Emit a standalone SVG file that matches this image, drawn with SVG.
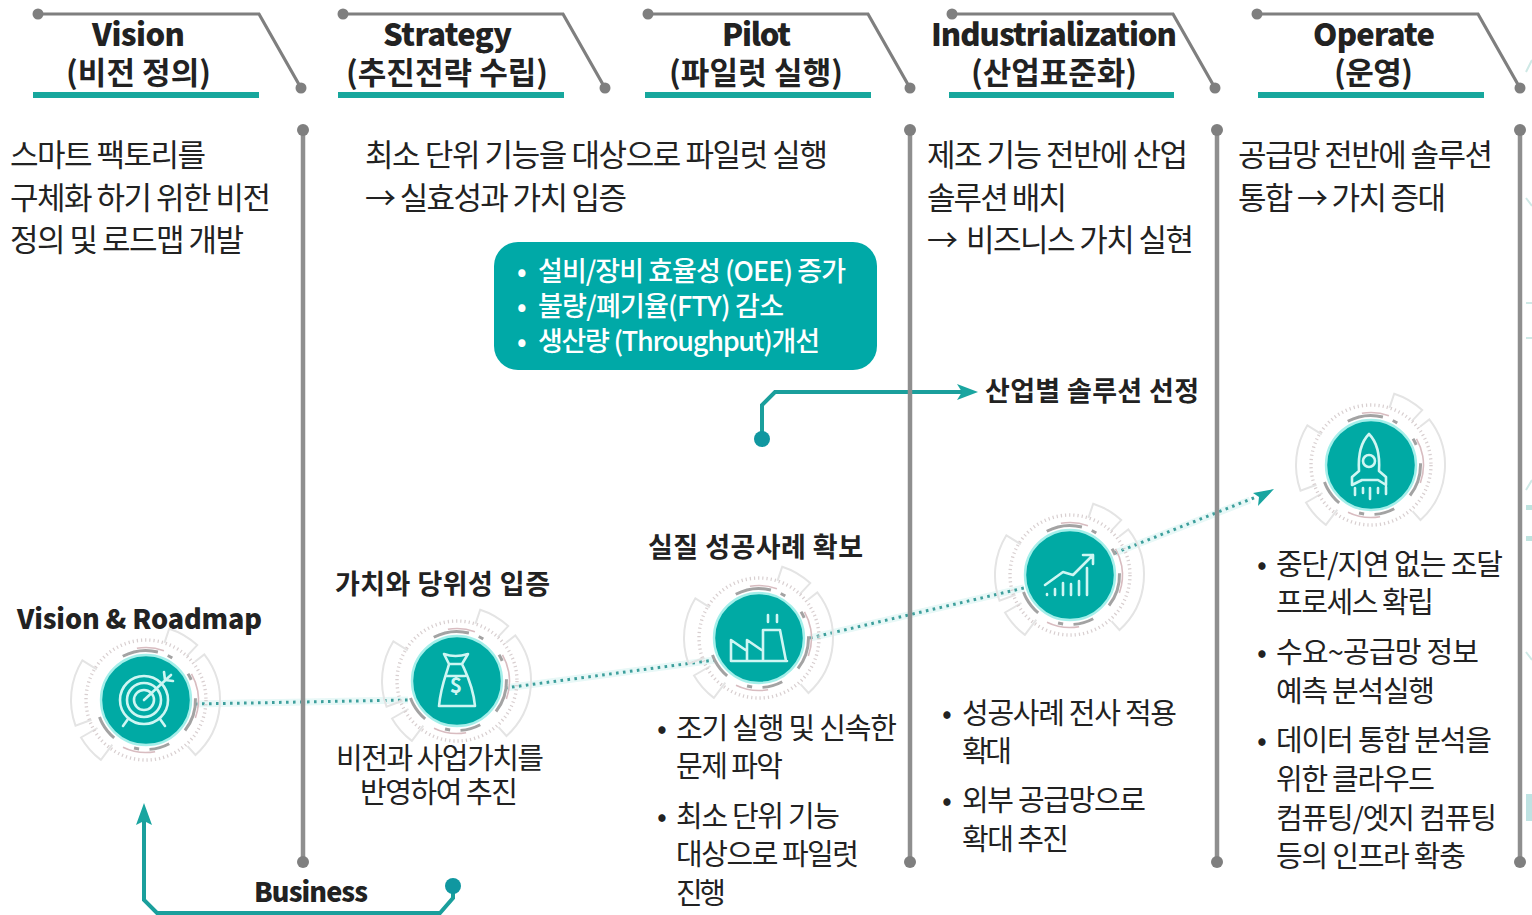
<svg xmlns="http://www.w3.org/2000/svg" width="1532" height="915" viewBox="0 0 1532 915">
<style>
text{font-family:"Noto Sans CJK KR","Noto Sans",sans-serif;fill:#222}
.h{font-size:31px;font-weight:700}
.l{font-size:31px;font-weight:900}
.b{font-size:31px}
.m{font-size:29px}
.w{font-size:27px;font-weight:500;fill:#fff}
.s{font-size:27px;font-weight:700}
.e{font-size:27px;font-weight:900}
.hl{fill:none;stroke:#7f7f7f;stroke-width:3.2}
.v{stroke:#8f8f8f;stroke-width:4.5}
.d{fill:#7f7f7f}
.bar{fill:#17a79d}
.tc{fill:none;stroke:#1a9f9c;stroke-width:4}
.dot{fill:none;stroke:#3d9f9c;stroke-width:3;stroke-dasharray:2.6 4.4}
.glow{fill:none;stroke:#e8f8f7;stroke-width:7}
.ic{fill:none;stroke:#cff6f3;stroke-width:2.6;stroke-linejoin:round;stroke-linecap:round}
.sec{fill:none;stroke:#e4e4e4;stroke-width:2}
.fm{fill:none;stroke:#cfe9e6;stroke-width:2}
</style>
<defs>
<filter id="soft" x="-10%" y="-10%" width="120%" height="120%"><feGaussianBlur stdDeviation="0.6"/></filter>
<g id="ring">
<path class="sec" d="M48.9 -38.2L58.3 -45.6A74 74 0 0 1 49.5 55L41.5 46.1"/>
<path class="sec" d="M18.5 -57.1L23.2 -71.3A75 75 0 0 1 51.2 -54.9L40.9 -43.9"/>
<path class="sec" d="M-54.5 19.8L-70.5 25.7A75 75 0 0 1 -63.6 -39.7L-49.2 -30.7"/>
<path class="sec" d="M-33.7 44.7L-45.1 59.9A75 75 0 0 1 -65 37.5L-48.5 28"/>
<circle r="60" fill="none" stroke="#d8cfd0" stroke-width="3.4" stroke-dasharray="1.2 3"/>
<circle r="49.5" fill="none" stroke="#a3a3a3" stroke-width="3" pathLength="360" stroke-dasharray="42 12 6 26 8 22 40 24 24 12 6 26 30 82" transform="rotate(-118)"/>
<circle r="52.5" fill="none" stroke="#d8bcc0" stroke-width="1.6" pathLength="360" stroke-dasharray="30 40 50 60 36 144" transform="rotate(-100)"/>
<circle r="45" fill="#04aaa4" stroke="#a5efea" stroke-width="2.4"/>
</g>
</defs>

<g id="connectors">
<path class="glow" d="M195 704L408 700M505 688L715 660M810 638L1024 588M1115 553L1250 500"/>
<path class="dot" d="M195 704L408 700M505 688L715 660M810 638L1024 588M1115 553L1256 497"/>
<path d="M1274 489L1253 493L1259 497L1258 506Z" fill="#1aa5a0"/>
<path class="tc" d="M762 439V405L775 392H962"/>
<path d="M978 392L957 384L962 392L957 400Z" fill="#1aa5a0"/>
<circle cx="762" cy="439" r="8" fill="#1097a0"/>
<path class="tc" d="M144 818V900L157 913H440L453 898V886"/>
<path d="M144 803L136 825L144 821L152 825Z" fill="#1aa5a0"/>
<circle cx="453" cy="886" r="8" fill="#1097a0"/>
</g>

<g id="dividers">
<path class="hl" d="M38 14H259L301 88M343 14H563L605 88M648 14H868L910 88M952 14H1173L1215 88M1257 14H1478L1520 88"/>
<g class="d"><circle cx="38" cy="14" r="5.5"/><circle cx="301" cy="88" r="5.5"/><circle cx="343" cy="14" r="5.5"/><circle cx="605" cy="88" r="5.5"/><circle cx="648" cy="14" r="5.5"/><circle cx="910" cy="88" r="5.5"/><circle cx="952" cy="14" r="5.5"/><circle cx="1215" cy="88" r="5.5"/><circle cx="1257" cy="14" r="5.5"/><circle cx="1520" cy="88" r="5.5"/></g>
<rect class="bar" x="33" y="92" width="226" height="6"/><rect class="bar" x="338" y="92" width="226" height="6"/><rect class="bar" x="645" y="92" width="226" height="6"/><rect class="bar" x="949" y="92" width="225" height="6"/><rect class="bar" x="1258" y="92" width="226" height="6"/>
<path class="v" d="M303 130V862M910 130V862M1217 130V862M1520 130V862"/>
<g class="d"><circle cx="303" cy="130" r="6"/><circle cx="303" cy="862" r="6"/><circle cx="910" cy="130" r="6"/><circle cx="910" cy="862" r="6"/><circle cx="1217" cy="130" r="6"/><circle cx="1217" cy="862" r="6"/><circle cx="1520" cy="130" r="6"/><circle cx="1520" cy="862" r="6"/></g>
</g>

<g id="edge-marks">
<path class="fm" d="M1526 72L1532 60M1526 198L1532 206M1526 303H1532M1526 338H1532M1526 490L1532 480M1526 652L1532 660"/>
<path d="M1526 505H1532V510H1526ZM1526 536H1532V541H1526Z" fill="#bfe3df"/>
<rect x="1526" y="794" width="6" height="27" fill="#bfe3e3"/>
</g>

<g id="header-vision"><text class="l" x="92" y="46" textLength="93">Vision</text><text class="h" x="66" y="84" textLength="145">(비전 정의)</text></g>
<g id="header-strategy"><text class="l" x="383" y="46" textLength="129">Strategy</text><text class="h" x="346" y="84" textLength="202">(추진전략 수립)</text></g>
<g id="header-pilot"><text class="l" x="722" y="46" textLength="69">Pilot</text><text class="h" x="669" y="84" textLength="174">(파일럿 실행)</text></g>
<g id="header-industrialization"><text class="l" x="931" y="46" textLength="246">Industrialization</text><text class="h" x="971" y="84" textLength="166">(산업표준화)</text></g>
<g id="header-operate"><text class="l" x="1313" y="46" textLength="122">Operate</text><text class="h" x="1334" y="84" textLength="79">(운영)</text></g>

<g id="desc-vision"><text class="b" x="10" y="166" textLength="196">스마트 팩토리를</text><text class="b" x="10" y="209" textLength="261">구체화 하기 위한 비전</text><text class="b" x="10" y="251" textLength="234">정의 및 로드맵 개발</text></g>
<g id="desc-strategy"><text class="b" x="365" y="166" textLength="463">최소 단위 기능을 대상으로 파일럿 실행</text><text class="b" x="365" y="209" textLength="262">→ 실효성과 가치 입증</text></g>
<g id="desc-industrial"><text class="b" x="927" y="166" textLength="261">제조 기능 전반에 산업</text><text class="b" x="927" y="209" textLength="140">솔루션 배치</text><text class="b" x="927" y="251" textLength="28">→</text><text class="b" x="966" y="251" textLength="228">비즈니스 가치 실현</text></g>
<g id="desc-operate"><text class="b" x="1238" y="166" textLength="255">공급망 전반에 솔루션</text><text class="b" x="1238" y="209" textLength="208">통합 → 가치 증대</text></g>

<g id="pilot-box">
<rect x="494" y="242" width="383" height="128" rx="24" fill="#00a9a7"/>
<text class="w" x="517" y="281">•</text><text class="w" x="538" y="281" textLength="308">설비/장비 효율성 (OEE) 증가</text>
<text class="w" x="517" y="316">•</text><text class="w" x="538" y="316" textLength="246">불량/폐기율(FTY) 감소</text>
<text class="w" x="517" y="351">•</text><text class="w" x="538" y="351" textLength="282">생산량 (Throughput)개선</text>
</g>

<g id="label-solution"><text class="s" x="985" y="401" textLength="214">산업별 솔루션 선정</text></g>

<g id="node-vision">
<text class="e" x="17" y="629" textLength="245">Vision &amp; Roadmap</text>
<g transform="translate(146 700)"><use href="#ring" filter="url(#soft)"/>
<g class="ic"><circle cx="-2" cy="0" r="24"/><circle cx="-2" cy="0" r="17"/><circle cx="-2" cy="0" r="10"/><path d="M-2 0L25 -25M18 -28L19 -20L27 -19M-18 19L-23 26M14 19L19 26"/></g></g>
</g>
<g id="node-strategy">
<text class="s" x="335" y="594" textLength="215">가치와 당위성 입증</text>
<g transform="translate(457 681)"><use href="#ring" filter="url(#soft)"/>
<g class="ic"><path d="M-13 -27Q-2 -23 11 -27L5 -17H-8ZM-8 -17C-10 -8 -16 4 -18 25H18C16 4 9 -8 5 -17M-11 -5H8"/></g>
<text x="-1" y="12" font-size="21" font-weight="700" text-anchor="middle" style="fill:#cff6f3">$</text></g>
<text class="m" x="336" y="769" textLength="208">비전과 사업가치를</text><text class="m" x="360" y="803" textLength="158">반영하여 추진</text>
</g>
<g id="node-pilot">
<text class="s" x="648" y="557" textLength="215">실질 성공사례 확보</text>
<g transform="translate(759 638)"><use href="#ring" filter="url(#soft)"/>
<g class="ic"><path d="M-28 23V2L-12 13V23M-12 13V2L4 13V23M4 23V-8H21L27 23ZM-28 23H28M9 -23V-16M18 -23V-16"/></g></g>
<text class="m" x="657" y="739">•</text><text class="m" x="676" y="739" textLength="221">조기 실행 및 신속한</text><text class="m" x="676" y="777" textLength="107">문제 파악</text>
<text class="m" x="657" y="827">•</text><text class="m" x="676" y="827" textLength="164">최소 단위 기능</text><text class="m" x="676" y="865" textLength="183">대상으로 파일럿</text><text class="m" x="676" y="904" textLength="50">진행</text>
</g>
<g id="node-industrial">
<g transform="translate(1070 575)"><use href="#ring" filter="url(#soft)"/>
<g class="ic"><path d="M-23 19V20M-15 14V20M-7 8V20M1 9V20M9 6V20M17 -7V20M-25 10L-7 -3L3 0L23 -20M13 -20H23V-11"/></g></g>
<text class="m" x="942" y="724">•</text><text class="m" x="962" y="724" textLength="215">성공사례 전사 적용</text><text class="m" x="962" y="762" textLength="50">확대</text>
<text class="m" x="942" y="811">•</text><text class="m" x="962" y="811" textLength="184">외부 공급망으로</text><text class="m" x="962" y="850" textLength="107">확대 추진</text>
</g>
<g id="node-operate">
<g transform="translate(1371 465)"><use href="#ring" filter="url(#soft)"/>
<g class="ic"><path d="M-2 -31C-11 -22 -13 -10 -12 6L-19 12V20L-9 15H7L15 20V12L8 6C9 -10 7 -22 -2 -31Z"/><circle cx="-2" cy="-4" r="6"/><path d="M-16 23V30M-8 23V28M-1 23V34M7 23V28M15 22V29"/></g></g>
<text class="m" x="1257" y="575">•</text><text class="m" x="1276" y="575" textLength="227">중단/지연 없는 조달</text><text class="m" x="1276" y="613" textLength="158">프로세스 확립</text>
<text class="m" x="1257" y="663">•</text><text class="m" x="1276" y="663" textLength="203">수요~공급망 정보</text><text class="m" x="1276" y="702" textLength="159">예측 분석실행</text>
<text class="m" x="1257" y="751">•</text><text class="m" x="1276" y="751" textLength="216">데이터 통합 분석을</text><text class="m" x="1276" y="790" textLength="159">위한 클라우드</text><text class="m" x="1276" y="829" textLength="221">컴퓨팅/엣지 컴퓨팅</text><text class="m" x="1276" y="867" textLength="190">등의 인프라 확충</text>
</g>
<g id="label-business"><text class="e" x="254" y="902" textLength="114">Business</text></g>
</svg>
